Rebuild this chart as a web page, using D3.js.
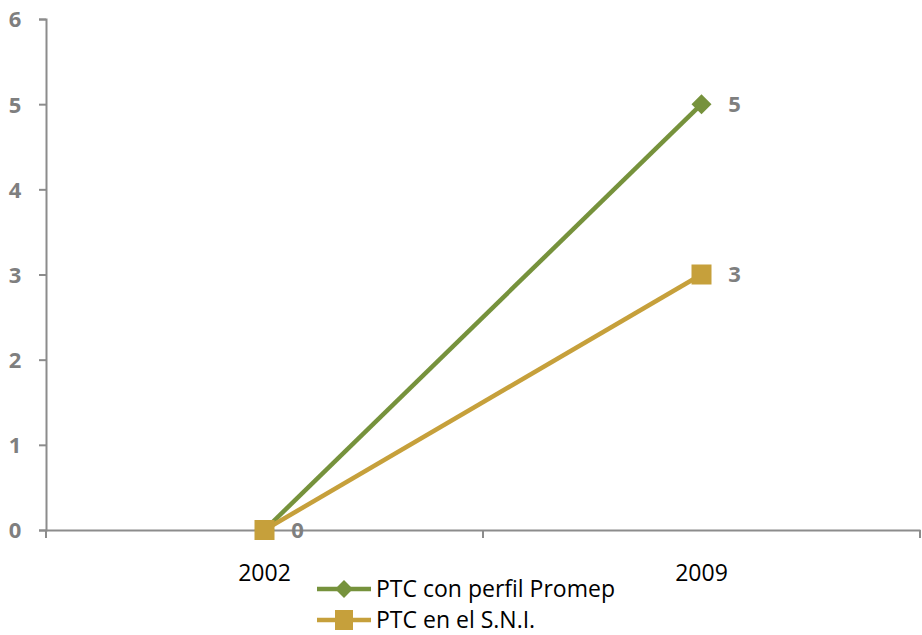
<!DOCTYPE html>
<html>
<head>
<meta charset="utf-8">
<script src="https://cdn.jsdelivr.net/npm/d3@7"></script>
<style>
  html, body { margin: 0; padding: 0; background: #fff; }
  svg text { font-family: "Open Sans", Lato, "Liberation Sans", sans-serif; }
</style>
</head>
<body>
<svg id="chart" width="922" height="635"></svg>
<script>
const years = ["2002", "2009"];
const promep = [0, 5];
const sni = [0, 3];
const yTicks = [0, 1, 2, 3, 4, 5, 6];
const seriesNames = ["PTC con perfil Promep", "PTC en el S.N.I."];

const svg = d3.select("#chart");
const plotLeft = 46, plotRight = 920, plotTop = 19, plotBottom = 530;

const x = d3.scaleBand().domain(years).range([plotLeft, plotRight]);
const y = d3.scaleLinear().domain([0, 6]).range([plotBottom, plotTop]);

const axisColor = "#8c8c8c";
const green = "#76923c";
const gold = "#c6a03b";

// y axis
const yAxis = svg.append("g").attr("transform", `translate(${plotLeft},0)`)
  .call(d3.axisLeft(y).tickValues(yTicks).tickSize(7).tickFormat(d3.format("d")));
yAxis.select(".domain").attr("stroke", axisColor).attr("stroke-width", 2);
yAxis.selectAll(".tick line").attr("stroke", axisColor).attr("stroke-width", 2);
yAxis.selectAll(".tick text").attr("fill", "#7f7f7f").attr("font-size", 22).attr("font-weight", "bold")
  .attr("text-anchor", "middle").attr("x", -31).attr("dy", "0.36em");

// x axis
const xAxis = svg.append("g").attr("transform", `translate(0,${plotBottom})`)
  .call(d3.axisBottom(x).tickSize(0).tickPadding(35));
xAxis.select(".domain").attr("stroke", axisColor).attr("stroke-width", 2);
xAxis.selectAll(".tick text").attr("fill", "#000").attr("font-size", 23);
// boundary ticks between categories
const bounds = [plotLeft, x("2009"), plotRight];
xAxis.selectAll("line.bound").data(bounds).enter().append("line")
  .attr("class", "bound")
  .attr("x1", d => d).attr("x2", d => d)
  .attr("y1", 0).attr("y2", 8)
  .attr("stroke", axisColor).attr("stroke-width", 2);

const cx = d => x(d) + x.bandwidth() / 2;
const line = d3.line().x((d, i) => cx(years[i])).y(d => y(d));

// series lines
svg.append("path").datum(promep).attr("d", line)
  .attr("fill", "none").attr("stroke", green).attr("stroke-width", 4.5);
svg.append("path").datum(sni).attr("d", line)
  .attr("fill", "none").attr("stroke", gold).attr("stroke-width", 4.5);

// markers
svg.selectAll("path.pm").data(promep).enter().append("path")
  .attr("class", "pm")
  .attr("d", d3.symbol().type(d3.symbolSquare).size(200))
  .attr("transform", (d, i) => `translate(${cx(years[i])},${y(d)}) rotate(45)`)
  .attr("fill", green);
svg.selectAll("rect.sm").data(sni).enter().append("rect")
  .attr("class", "sm")
  .attr("x", (d, i) => cx(years[i]) - 10).attr("y", d => y(d) - 10)
  .attr("width", 20).attr("height", 20)
  .attr("fill", gold);

// data labels
const labels = [
  { year: "2002", v: sni[0] },
  { year: "2009", v: promep[1] },
  { year: "2009", v: sni[1] }
];
svg.selectAll("text.lbl").data(labels).enter().append("text")
  .attr("class", "lbl")
  .attr("x", d => cx(d.year) + 33).attr("y", d => y(d.v)).attr("dy", "0.36em")
  .attr("text-anchor", "middle")
  .attr("fill", "#7f7f7f").attr("font-size", 22).attr("font-weight", "bold")
  .text(d => d.v);

// legend
const legend = svg.append("g");
const lg = [
  { name: seriesNames[0], color: green, shape: "diamond", yy: 589 },
  { name: seriesNames[1], color: gold, shape: "square", yy: 620 }
];
lg.forEach(d => {
  legend.append("line").attr("x1", 317).attr("x2", 371).attr("y1", d.yy).attr("y2", d.yy)
    .attr("stroke", d.color).attr("stroke-width", 4.5);
  if (d.shape === "diamond") {
    legend.append("path").attr("d", d3.symbol().type(d3.symbolSquare).size(160))
      .attr("transform", `translate(344,${d.yy}) rotate(45)`).attr("fill", d.color);
  } else {
    legend.append("rect").attr("x", 335).attr("y", d.yy - 10).attr("width", 18).attr("height", 20)
      .attr("fill", d.color);
  }
  legend.append("text").attr("x", 376).attr("y", d.yy).attr("dy", "0.36em")
    .attr("font-size", 23).attr("fill", "#000")
    .text(d.name);
});
</script>
</body>
</html>
